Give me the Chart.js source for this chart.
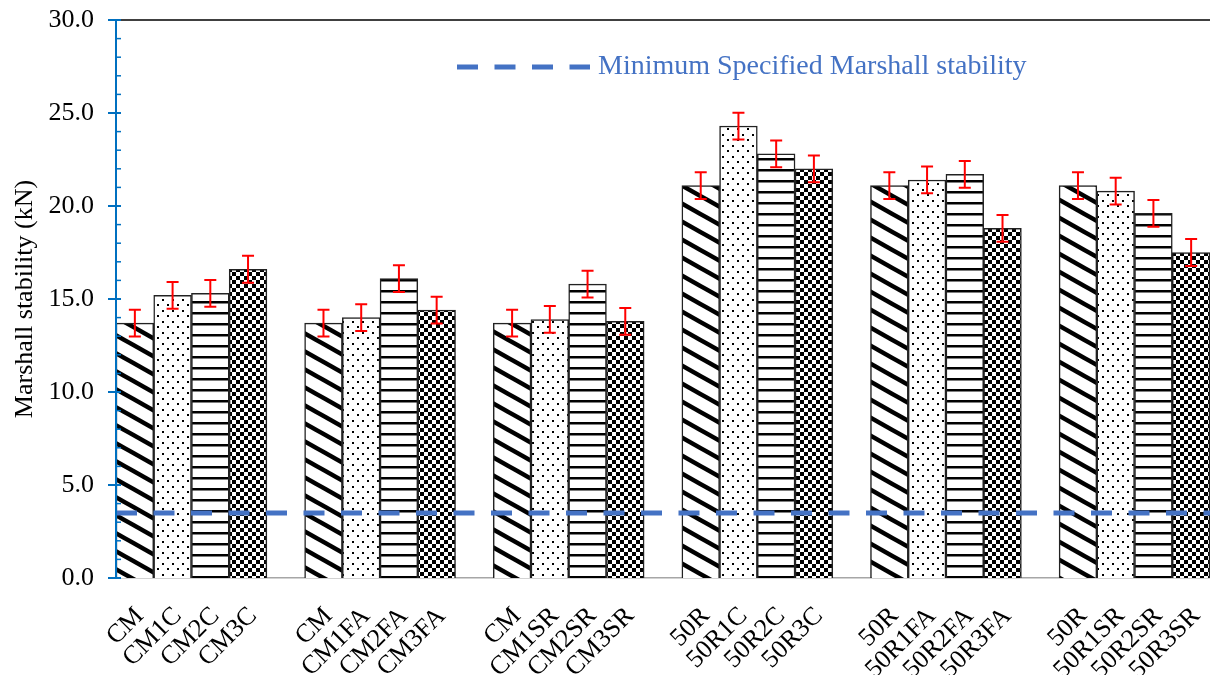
<!DOCTYPE html>
<html>
<head>
<meta charset="utf-8">
<script src="https://cdn.jsdelivr.net/npm/chart.js@4.4.0/dist/chart.umd.min.js"></script>
<style>
  html, body { margin: 0; padding: 0; background: #fff; }
  #wrap { width: 1210px; height: 675px; overflow: hidden; }
</style>
</head>
<body>
<div id="wrap"><canvas id="chart" width="1210" height="675"></canvas></div>
<script>
// Bars, in order, 4 per group
const barLabels = [
    'CM', 'CM1C', 'CM2C', 'CM3C',
    'CM', 'CM1FA', 'CM2FA', 'CM3FA',
    'CM', 'CM1SR', 'CM2SR', 'CM3SR',
    '50R', '50R1C', '50R2C', '50R3C',
    '50R', '50R1FA', '50R2FA', '50R3FA',
    '50R', '50R1SR', '50R2SR', '50R3SR'
];
const stability = [
    13.7, 15.2, 15.3, 16.6,
    13.7, 14.0, 16.1, 14.4,
    13.7, 13.9, 15.8, 13.8,
    21.1, 24.3, 22.8, 22.0,
    21.1, 21.4, 21.7, 18.8,
    21.1, 20.8, 19.6, 17.5
];
const stabilityErr = [
    0.72, 0.72, 0.72, 0.72,
    0.72, 0.72, 0.72, 0.72,
    0.72, 0.72, 0.72, 0.72,
    0.72, 0.72, 0.72, 0.72,
    0.72, 0.72, 0.72, 0.72,
    0.72, 0.72, 0.72, 0.72
];
const fillKinds = ['diag', 'dots', 'hlines', 'checker'];
const barsPerGroup = 4;
const yTicks = [0, 5, 10, 15, 20, 25, 30];
const minSpecified = 3.5;
const minSpecLabel = 'Minimum Specified Marshall stability';
const yTitle = 'Marshall stability (kN)';

const FONT = "'Liberation Serif', 'Times New Roman', serif";
const BLUE_AXIS = '#0070C0';
const BLUE_LINE = '#4472C4';

const canvas = document.getElementById('chart');
const ctx = canvas.getContext('2d');

// Hatch fills drawn on small tiles
function makePattern(kind) {
    const t = document.createElement('canvas');
    let w = 8, h = 8;
    if (kind === 'diag') { w = 32; h = 18; }
    if (kind === 'dots') { w = 10; h = 11; }
    if (kind === 'hlines') { w = 8; h = 11; }
    t.width = w; t.height = h;
    const g = t.getContext('2d');
    g.fillStyle = '#fff';
    g.fillRect(0, 0, w, h);
    g.fillStyle = '#000';
    g.strokeStyle = '#000';
    if (kind === 'diag') {
        g.lineWidth = 4.5;
        for (let k = -1; k <= 1; k++) {
            g.beginPath();
            g.moveTo(-w, k * h - h);
            g.lineTo(2 * w, k * h + 2 * h);
            g.stroke();
        }
    } else if (kind === 'dots') {
        g.fillRect(2, 2, 2, 2);
        g.fillRect(7, 7, 2, 2);
    } else if (kind === 'hlines') {
        g.fillRect(0, 4, w, 2.5);
    } else if (kind === 'checker') {
        g.fillRect(0, 0, 4, 4);
        g.fillRect(4, 4, 4, 4);
    }
    return ctx.createPattern(t, 'repeat');
}
const patterns = {};
fillKinds.forEach(k => { patterns[k] = makePattern(k); });

// Slots: 4 bars then an empty slot between groups
const slotLabels = [];
const slotValues = [];
const slotErrs = [];
const slotFills = [];
barLabels.forEach((lab, i) => {
    slotLabels.push(lab);
    slotValues.push(stability[i]);
    slotErrs.push(stabilityErr[i]);
    slotFills.push(patterns[fillKinds[i % barsPerGroup]]);
    if (i % barsPerGroup === barsPerGroup - 1 && i < barLabels.length - 1) {
        slotLabels.push('');
        slotValues.push(null);
        slotErrs.push(null);
        slotFills.push('rgba(0,0,0,0)');
    }
});

const errorBars = {
    id: 'errorBars',
    afterDatasetsDraw(chart) {
        const meta = chart.getDatasetMeta(0);
        const y = chart.scales.y;
        const c = chart.ctx;
        c.save();
        c.strokeStyle = '#FF0000';
        c.lineWidth = 2;
        meta.data.forEach((bar, i) => {
            const v = slotValues[i];
            if (v == null) return;
            const top = y.getPixelForValue(v + slotErrs[i]);
            const bot = y.getPixelForValue(v - slotErrs[i]);
            const x = bar.x;
            c.beginPath();
            c.moveTo(x, top); c.lineTo(x, bot);
            c.moveTo(x - 6, top); c.lineTo(x + 6, top);
            c.moveTo(x - 6, bot); c.lineTo(x + 6, bot);
            c.stroke();
        });
        c.restore();
    }
};

const axesDeco = {
    id: 'axesDeco',
    afterDatasetsDraw(chart) {
        const c = chart.ctx;
        const a = chart.chartArea;
        const y = chart.scales.y;
        c.save();
        // top border
        c.strokeStyle = '#000';
        c.lineWidth = 1.5;
        c.beginPath();
        c.moveTo(a.left + 4, a.top);
        c.lineTo(a.right, a.top);
        c.stroke();
        // y axis line
        c.strokeStyle = BLUE_AXIS;
        c.lineWidth = 2;
        c.beginPath();
        c.moveTo(a.left, a.top);
        c.lineTo(a.left, a.bottom);
        c.stroke();
        // minor ticks (inside)
        c.lineWidth = 1.5;
        for (let v = y.min; v <= y.max; v += 1) {
            const py = y.getPixelForValue(v);
            c.beginPath();
            c.moveTo(a.left, py);
            c.lineTo(a.left + 5, py);
            c.stroke();
        }
        // major ticks (cross)
        c.lineWidth = 2;
        yTicks.forEach(v => {
            const py = y.getPixelForValue(v);
            c.beginPath();
            c.moveTo(a.left - 8, py);
            c.lineTo(a.left + 5, py);
            c.stroke();
        });
        c.restore();
    }
};

const legendDeco = {
    id: 'legendDeco',
    afterDraw(chart) {
        const c = chart.ctx;
        c.save();
        c.strokeStyle = BLUE_LINE;
        c.lineWidth = 5;
        c.setLineDash([21, 16.5]);
        c.beginPath();
        c.moveTo(457, 67);
        c.lineTo(590, 67);
        c.stroke();
        c.setLineDash([]);
        c.fillStyle = BLUE_LINE;
        c.font = '28px ' + FONT;
        c.textBaseline = 'middle';
        c.textAlign = 'left';
        c.fillText(minSpecLabel, 598, 67);
        c.restore();
    }
};

new Chart(ctx, {
    type: 'bar',
    data: {
        labels: slotLabels,
        datasets: [{
            label: 'Marshall stability',
            data: slotValues,
            backgroundColor: slotFills,
            borderColor: '#222',
            borderWidth: 1.5,
            barPercentage: 1,
            categoryPercentage: 1,
            grouped: false,
            order: 2
        }, {
            type: 'line',
            label: minSpecLabel,
            xAxisID: 'xLine',
            data: [{ x: 0, y: minSpecified }, { x: 1, y: minSpecified }],
            borderColor: BLUE_LINE,
            borderWidth: 5,
            borderDash: [21, 16.5],
            pointRadius: 0,
            fill: false,
            order: 1
        }]
    },
    options: {
        responsive: false,
        animation: false,
        events: [],
        layout: { padding: { top: 20, right: 0, left: 0, bottom: 0 } },
        plugins: {
            legend: { display: false },
            tooltip: { enabled: false }
        },
        scales: {
            x: {
                type: 'category',
                offset: true,
                grid: { display: false },
                border: { display: true, color: '#A6A6A6', width: 1.5 },
                ticks: {
                    autoSkip: false,
                    maxRotation: 45,
                    minRotation: 45,
                    padding: 15,
                    labelOffset: 5,
                    color: '#000',
                    font: { family: FONT, size: 26 }
                },
                afterFit(s) {
                    s.height = 97;
                    s.paddingLeft = 0;
                    s.paddingRight = 0;
                }
            },
            xLine: {
                type: 'linear',
                display: false,
                offset: false,
                min: 0,
                max: 1
            },
            y: {
                min: 0,
                max: 30,
                grid: { display: false, drawTicks: false },
                border: { display: false },
                ticks: {
                    stepSize: 5,
                    padding: 22,
                    color: '#000',
                    font: { family: FONT, size: 26 },
                    callback: v => v.toFixed(1)
                },
                title: {
                    display: true,
                    text: yTitle,
                    color: '#000',
                    font: { family: FONT, size: 26 },
                    padding: { top: 10, bottom: 0 }
                },
                afterFit(s) {
                    s.width = 116;
                    s.paddingTop = 0;
                    s.paddingBottom = 0;
                }
            }
        }
    },
    plugins: [errorBars, axesDeco, legendDeco]
});
</script>
</body>
</html>
